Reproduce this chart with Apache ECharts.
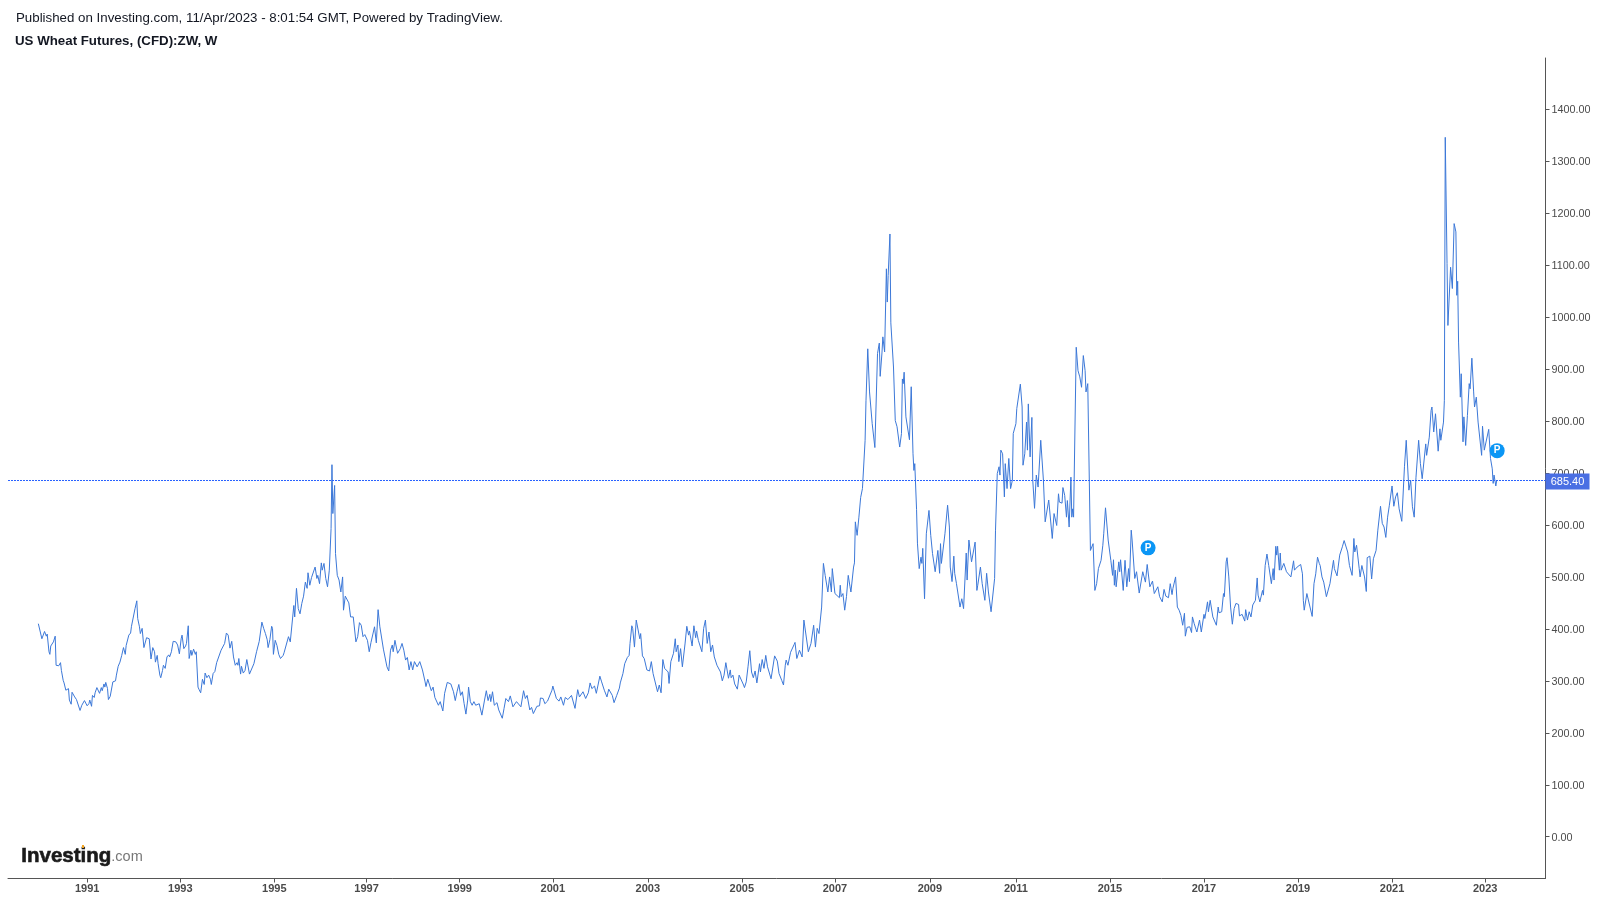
<!DOCTYPE html>
<html>
<head>
<meta charset="utf-8">
<title>US Wheat Futures</title>
<script src="https://cdn.jsdelivr.net/npm/echarts@6/dist/echarts.min.js"></script>
<style>html,body{margin:0;padding:0;background:#fff}#chart{width:1602px;height:902px}</style>
</head>
<body>
<div id="chart"></div>
<script>
// weekly bar number (from the first bar) and close
var weeks1 = [0,4,5,7,9,10,12,13,14,17,19,20,23,25,26,28,29,30,31,34,35,37,38,41,43,45,47,49,52,53,55,57,58,60,61,63,64,66,67,69,71,72,74,75,76,78,79,80,81,84,87,88,90,92,94,96,98,99,102,104,105,107,109,111,112,114,115,117,119,121,122,125,127,129,131,132,134,135,137,138,140,141,143,145,147,148,150,152,153,155,157,159,161,162,164,166,167,169,170,172,173,175,177,178,180,181,183,185,187,188,190,192,194,195,197,199,201,203,206,208,210,212,214,216,218,220,222,224,225,226,228,229,231,233,235,238,240,243,246,249,252,254,256,258,259,261,263,264,265,267,269,271,273,276,277,282,284,288,289,291,293,295,297,299,301,303,304,306,308,310,312,314,315,317];
var prices1 = [410,381,379,395,386,390,356,351,367,375,386,330,329,335,320,301,296,298,282,285,263,255,278,269,264,266,243,253,262,260,252,256,263,251,272,268,277,287,290,276,287,281,294,288,297,285,264,261,270,298,300,311,328,336,349,364,351,368,388,392,405,402,439,454,420,404,391,401,364,362,383,381,342,364,356,336,349,333,311,306,320,330,324,346,350,346,356,376,373,375,369,352,381,388,362,367,372,406,343,359,349,361,351,356,288,284,277,303,293,315,306,311,303,293,314,318,335,338,359,362,372,392,388,363,376,346,330,335,330,343,313,328,315,320,341,313,314,333,356,376,413,401,391,379,364,379,405,401,351,378,368,351,343,349,354,385,375,445,423,478,439,429,449,463,490,478,508,484,499,501,519,497,503,487];

var weeks2 = [319,320,322,324,326,328,330,331,332,334,335,337,339,341,343,344,346,350,352,355,358,360,362,364,366,368,371,373,375,376,379,381,383,385,389,391,393,395,397,399,400,402,405,408,410,412,414,416,418,420,422,424,427,430,433,436,437,439,441,443,445,447,449,451,453,456,458,460,461,465,468,470,472,474,476,478,480,482,484,485,487,489,491,493,497,500,502,503,505,507,509,510,512,514,517,519,523,525,527,530,532,535,537,539,541,544,547,549,551,554,556,558,560,562,565,566,569,571,574,576,579,580,584,587,589,592,594,597,599,601,605,608];
var prices2 = [527,513,526,497,481,513,593,716,622,676,545,503,494,471,500,436,463,450,423,423,375,385,412,407,385,389,378,356,374,375,404,373,437,404,361,359,327,319,359,369,356,378,353,362,372,359,340,345,321,337,321,337,327,337,321,298,289,303,292,281,288,268,266,253,260,242,276,276,297,294,279,262,279,293,272,279,256,236,263,288,260,253,260,253,256,234,233,263,281,262,274,260,279,253,258,244,228,247,266,260,271,250,250,260,263,250,281,266,272,244,249,237,239,251,252,267,266,256,261,258,282,290,266,261,269,253,268,264,261,272,247,283];

var weeks3 = [610,612,614,617,620,622,624,627,629,633,635,638,641,643,644,647,649,652,655,656,659,661,664,666,667,669,670,672,674,676,678,679,681,683,686,689,691,693,695,698,700,702,704,706,710,711,713,716,718,719,721,722,724,726,727,729,731,733,734,737,739,741,742,744,746,748,750,752,754,756,758,760,762,765,766,769,771,773,775,778,780,781,783,785,788,790,792,795,796,798,800,802,804,806,808,810,813,814,816,818,820,822,826,830,833,835,838,840,842,843,845,848,852,853,855,858,861,863,865,868,871,874,876,878,880,883,885,887,890,892,894,895,898,900,903];
var prices3 = [269,272,279,266,277,296,285,290,276,309,298,282,269,284,285,272,258,272,286,296,314,333,345,349,372,406,401,365,417,415,381,391,348,343,321,319,337,314,313,279,292,277,341,324,317,295,337,353,381,356,369,337,362,327,327,371,405,388,396,367,406,383,396,378,378,356,401,417,372,394,356,369,346,330,332,317,300,311,335,305,321,306,311,294,284,311,311,292,287,298,327,358,317,306,319,296,333,317,341,324,349,327,304,348,338,314,301,292,330,340,330,355,370,374,343,359,346,417,417,356,372,407,365,401,391,442,526,503,471,500,471,516,468,471,460];

var weeks4 = [904,905,907,909,911,913,915,916,919,920,921,923,925,927,929,932,933,934,935,937,938,940,943,946,948,949,951,952,954,956,957,958,960,961,963,964,966,968,971,973,974,975,976,978,979,982,984,986,987,988,990,991,992,993,995,996,997,999,1001,1004,1006,1008,1011,1013,1014,1016,1017,1018,1022,1025,1027,1028,1030,1032,1033,1035,1039,1041,1043,1046,1047,1049,1052,1056,1058,1059,1062,1064,1067,1069,1071,1074,1078,1079,1081,1083,1084,1085,1087,1089,1090,1092,1094,1096,1098,1099,1102,1103,1107,1109,1110,1112,1114,1115,1116,1118,1120,1121,1123,1125,1127,1130,1133,1135,1136,1139,1143,1145,1148,1150,1151,1154,1155,1157,1159,1160,1162,1164,1165,1166,1167,1170,1172,1174,1176,1178,1180,1181,1183,1185,1186,1188,1189,1191,1193,1195,1198,1200,1201,1203,1206,1209,1211,1212,1213,1214,1215,1218,1219,1220,1223,1225,1227,1229,1230,1232,1233,1236,1238,1241];
var prices4 = [484,462,468,436,462,503,481,471,519,527,606,580,615,653,670,763,839,839,939,856,856,795,749,930,950,886,931,962,933,1093,1029,1080,1160,989,990,904,801,789,750,776,881,872,894,808,811,764,866,737,705,718,630,565,567,516,538,526,555,458,583,628,580,545,510,507,551,507,564,526,583,638,596,519,491,540,507,487,442,458,439,546,494,571,529,567,474,484,519,487,455,507,471,433,497,590,699,712,696,744,737,654,718,670,728,670,686,776,795,824,871,827,715,737,798,744,833,731,807,686,632,696,673,763,686,606,609,648,574,622,599,660,644,642,672,657,615,647,596,692,615,631,615,942,897,885,865,926,897,856,872,873,551,548,564,474,487,516,532,561,583,633,571,532,503,533,484,513,481,529,510,533,474,532,481,516,491,590,571,497,510,469];

var weeks5 = [1244,1245,1248,1250,1253,1256,1258,1262,1264,1267,1269,1271,1274,1276,1278,1279,1282,1284,1286,1288,1290,1292,1293,1295,1298,1300,1301,1303,1305,1306,1309,1311,1314,1315,1318,1319,1321,1324,1326,1328,1330,1331,1334,1336,1337,1339,1340,1342,1344,1346,1348,1350,1353,1354,1357,1360,1361,1363,1365,1367,1369,1372,1374,1375,1377,1380,1381,1383,1385,1387,1390,1392,1393,1395,1396,1397,1399,1400,1401,1404,1407,1412,1415,1416,1419,1423,1425,1426,1427,1430,1432,1436,1438,1440,1442,1444,1445,1447,1449,1452,1454,1456,1457,1460,1461,1464,1467,1470,1472,1474,1476,1478,1481,1483,1484,1486,1489,1490,1492,1495,1497,1498,1501,1503,1505,1508,1510,1513,1515,1517,1519,1521,1523,1526,1528,1530,1532,1534];
var prices5 = [500,510,490,524,481,492,468,481,462,452,476,463,460,487,466,478,500,442,436,426,407,430,386,403,404,393,423,410,399,394,417,394,428,420,452,433,455,423,426,407,442,431,433,468,462,529,537,500,442,409,439,449,447,425,428,415,437,417,433,423,446,455,498,465,452,474,465,522,544,522,487,516,494,559,542,559,513,546,513,526,510,500,531,513,519,524,506,455,436,468,468,424,487,506,538,526,522,500,490,462,462,487,490,532,516,502,542,558,570,570,548,522,503,574,548,561,516,500,522,500,472,537,540,496,535,551,590,636,603,596,576,615,638,675,636,654,662,631];

var weeks6 = [1535,1537,1540,1542,1545,1547,1549,1551,1553,1556,1558,1560,1564,1565,1568,1570,1571,1573,1575,1578,1580,1581,1584,1585,1586,1588,1589,1592,1594,1596,1598,1599,1600,1601,1603,1604,1606,1607,1609,1611,1613,1614,1616,1618,1619,1621,1623,1627,1628,1630,1632,1635,1637,1639,1640,1641,1643,1644];
var prices6 = [628,607,712,763,667,686,635,615,692,763,718,689,756,734,769,820,827,779,814,742,785,763,798,840,1346,1103,984,1096,1055,1180,1164,1042,1069,952,846,891,760,808,753,811,872,862,921,856,827,846,798,734,790,744,742,784,728,708,680,696,675,685.4];

var yTicks = [0,100,200,300,400,500,600,700,800,900,1000,1100,1200,1300,1400];
var yearTicks = [55,160,266,370,475,580,687,793,898,1005,1102,1208,1314,1420,1526,1631];
var yearLabels = ['1991','1993','1995','1997','1999','2001','2003','2005','2007','2009','2011','2015','2017','2019','2021','2023'];
var lastPrice = 685.4;
var pins = [[1251,556],[1644.5,743]];

var allWeeks = weeks1.concat(weeks2, weeks3, weeks4, weeks5, weeks6);
var allPrices = prices1.concat(prices2, prices3, prices4, prices5, prices6);
var series_data = allWeeks.map(function(w, i) { return [w, allPrices[i]]; });

var myChart = echarts.init(document.getElementById('chart'), null, {renderer: 'canvas'});
var font = '"Liberation Sans", Arial, sans-serif';
var axisColor = '#555555';

var option = {
    animation: false,
    backgroundColor: '#ffffff',
    title: [
        {text: 'Published on Investing.com, 11/Apr/2023 - 8:01:54 GMT, Powered by TradingView.', left: 16, top: 12, padding: 0,
            textStyle: {fontFamily: font, fontSize: 13.3, fontWeight: 'normal', color: '#131722'}},
        {text: 'US Wheat Futures, (CFD):ZW, W', left: 15, top: 35, padding: 0,
            textStyle: {fontFamily: font, fontSize: 13.3, fontWeight: 'bold', color: '#131722'}},
    ],
    grid: {left: 8, right: 56.5, top: 58, bottom: 23.5},
    xAxis: {
        type: 'value', min: -34.2, max: 1699, splitLine: {show: false},
        axisLine: {onZero: false, lineStyle: {color: axisColor, width: 1}},
        axisTick: {length: 4, lineStyle: {color: axisColor}, customValues: yearTicks},
        axisLabel: {
            customValues: yearTicks, margin: 5,
            fontFamily: font, fontSize: 11, fontWeight: 'bold', color: '#4a4a4a',
            formatter: function(v) { return yearLabels[yearTicks.indexOf(v)]; }
        },
    },
    yAxis: {
        type: 'value', position: 'right', min: -80.4, max: 1498.7, splitLine: {show: false},
        axisLine: {show: true, onZero: false, lineStyle: {color: axisColor, width: 1}},
        axisTick: {show: true, length: 4, lineStyle: {color: axisColor}, customValues: yTicks},
        axisLabel: {
            customValues: yTicks, margin: 6, verticalAlign: 'top', padding: [-4.5, 0, 0, 0],
            fontFamily: font, fontSize: 10.8, color: '#4a4a4a',
            formatter: function(v) { return v.toFixed(2); }
        },
    },
    series: [{
        type: 'line', data: series_data, showSymbol: false, smooth: false, silent: true,
        lineStyle: {color: '#3c78d8', width: 1},
        markLine: {
            silent: true, symbol: 'none', animation: false,
            lineStyle: {color: '#2962ff', type: [2, 1], width: 1},
            data: [{yAxis: lastPrice}],
            label: {
                position: 'end', distance: 0, offset: [0, 1], formatter: '{t|' + lastPrice.toFixed(2) + '}',
                rich: {t: {
                    backgroundColor: '#4a6fe3', color: '#ffffff', align: 'center',
                    fontFamily: font, fontSize: 11, width: 44, height: 16, lineHeight: 16,
                }},
            },
        },
        markPoint: {
            silent: true, symbol: 'circle', symbolSize: 15, animation: false,
            itemStyle: {color: '#0b96f5'},
            label: {show: true, formatter: 'P', color: '#ffffff', fontFamily: font, fontSize: 10, fontWeight: 'bold'},
            data: pins.map(function(p) { return {coord: p}; }),
        },
    }],
    graphic: [
        {type: 'text', left: 21, top: 846,
            style: {
                text: '{a|Investing}{b|.com}',
                rich: {
                    a: {fontFamily: font, fontSize: 20.5, fontWeight: 'bold', fill: '#1a1a1a', stroke: '#1a1a1a', lineWidth: 0.6},
                    b: {fontFamily: font, fontSize: 14.5, fill: '#777777'},
                },
            }},
        {type: 'rect', shape: {x: 82, y: 845, width: 2, height: 3}, style: {fill: '#f5a623'}},
    ],
};

myChart.setOption(option);
</script>
</body>
</html>
